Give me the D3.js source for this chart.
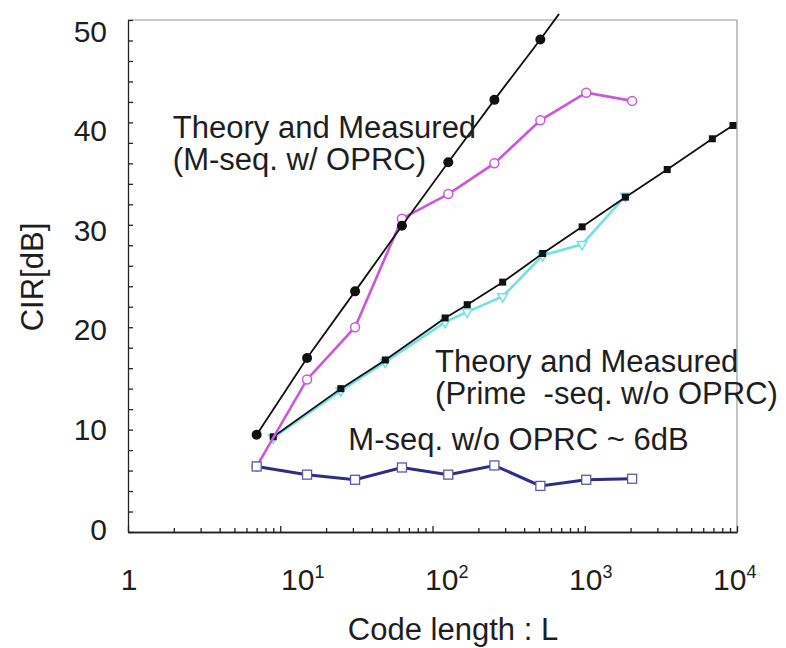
<!DOCTYPE html>
<html>
<head>
<meta charset="utf-8">
<script src="https://cdn.jsdelivr.net/npm/d3@7"></script>
<style>
  html, body { margin: 0; padding: 0; background: #fff; }
  svg { display: block; }
  text { font-family: "Liberation Sans", Arial, Helvetica, sans-serif; fill: #1e1e1e; }
</style>
</head>
<body>
<svg id="chart" width="786" height="648"></svg>
<script>
// Code lengths (L) of M-sequences and prime sequences
const mSeqTheoryLengths = [7, 15, 31, 63, 127, 255, 511];
const mSeqMeasuredLengths = [7, 15, 31, 63, 127, 255, 511, 1023, 2047];
const primeLengths = [9, 25, 49, 121, 169, 289, 529, 961, 1849, 3481, 6889, 9409];
const primeMeasuredLengths = [9, 25, 49, 121, 169, 289, 529, 961, 1849];

// CIR values in dB
const theoryMWithOPRC = [9.5, 17.0, 23.5, 29.9, 36.1, 42.2, 48.1];
const theoryMLineEnd = [678, 50.6];   // where the theory line stops
const measuredMWithOPRC = [6.4, 14.9, 20.0, 30.6, 33.0, 36.0, 40.2, 42.9, 42.1];
const measuredMWithoutOPRC = [6.4, 5.6, 5.1, 6.3, 5.6, 6.5, 4.5, 5.1, 5.2];
const theoryPrime = [9.3, 14.0, 16.8, 20.9, 22.2, 24.4, 27.2, 29.8, 32.7, 35.4, 38.4, 39.7];
const measuredPrime = [9.2, 13.8, 16.6, 20.5, 21.5, 23.0, 27.0, 28.1, 32.8];

// Axis ticks and labels
const yTickLabels = [0, 10, 20, 30, 40, 50];
const xDecades = [1, 10, 100, 1000, 10000];
const xDecadeLabels = [["1", ""], ["10", "1"], ["10", "2"], ["10", "3"], ["10", "4"]];

// Annotations
const annotations = [
  { lines: ["Theory and Measured", "(M-seq. w/ OPRC)"], L: 1.97, cir: 38.5 },
  { lines: ["Theory and Measured", "(Prime\u00a0\u00a0-seq. w/o OPRC)"], L: 104, cir: 15.6 },
  { lines: ["M-seq. w/o OPRC ~ 6dB"], L: 28, cir: 8.0 }
];

const svg = d3.select("#chart");
const x = d3.scaleLog().domain([1, 1e4]).range([128, 737]);
const y = d3.scaleLinear().domain([0, 50]).range([532, 20]);
// Tick label placement (labels sit slightly compressed against the ticks)
const yLabelPos = d3.scaleLinear().domain([0, 50]).range([529, 31]);
const xLabelStart = d3.scaleLog().domain([10, 1e4]).range([281, 713]);

const pts = (xs, ys) => xs.map((L, i) => [L, ys[i]]);
const line = d3.line().x(d => x(d[0])).y(d => y(d[1]));

// Frame (top and right sides)
svg.append("path")
  .attr("d", `M${x(1)},${y(50)}H${x(1e4)}V${y(0)}`)
  .attr("fill", "none").attr("stroke", "#9a9a9a").attr("stroke-width", 1.2);

// Left axis: inward ticks every 2 dB
const yAxis = d3.axisRight(y).tickValues(d3.range(0, 51, 2)).tickSize(5).tickSizeOuter(0).tickFormat("");
svg.append("g").attr("transform", `translate(${x(1)},0)`).call(yAxis);

// Bottom axis: minor log ticks and longer decade ticks, pointing inward
const minorTicks = [];
for (let d = 1; d < 1e4; d *= 10) for (let k = 2; k <= 9; k++) minorTicks.push(d * k);
svg.append("g").attr("transform", `translate(0,${y(0)})`)
  .call(d3.axisTop(x).tickValues(minorTicks).tickSize(4).tickSizeOuter(0).tickFormat(""));
svg.append("g").attr("transform", `translate(0,${y(0)})`)
  .call(d3.axisTop(x).tickValues(xDecades).tickSize(6).tickSizeOuter(0).tickFormat(""));
svg.selectAll("g path, g line").attr("stroke", "#222").attr("stroke-width", 1.3);

// Y tick labels
svg.append("g").selectAll("text").data(yTickLabels).join("text")
  .attr("x", 107).attr("y", d => yLabelPos(d))
  .attr("text-anchor", "end").attr("dominant-baseline", "central")
  .attr("font-size", 30).text(d => d);

// X tick labels with superscript exponents
const xl = svg.append("g").selectAll("text").data(xDecades).join("text")
  .attr("x", (d, i) => i === 0 ? x(d) + 1 : xLabelStart(d))
  .attr("y", 590)
  .attr("text-anchor", (d, i) => i === 0 ? "middle" : "start")
  .attr("font-size", 30);
xl.append("tspan").text((d, i) => xDecadeLabels[i][0]);
xl.append("tspan").attr("font-size", 18).attr("dy", -12).text((d, i) => xDecadeLabels[i][1]);

// Axis titles
svg.append("text").attr("x", 453).attr("y", 640).attr("text-anchor", "middle")
  .attr("font-size", 31).text("Code length : L");
svg.append("text").attr("transform", "translate(43,277) rotate(-90)")
  .attr("text-anchor", "middle").attr("font-size", 31).text("CIR[dB]");

const plot = svg.append("g");

// Measured prime sequence (cyan, open triangles)
const primeMeas = pts(primeMeasuredLengths, measuredPrime);
plot.append("path").datum(primeMeas).attr("d", line)
  .attr("fill", "none").attr("stroke", "#6fe3e3").attr("stroke-width", 2.6);
plot.append("g").selectAll("path").data(primeMeas).join("path")
  .attr("d", d3.symbol(d3.symbolTriangle, 40))
  .attr("transform", d => `translate(${x(d[0])},${y(d[1])}) rotate(180)`)
  .attr("fill", "#fff").attr("stroke", "#6fe3e3").attr("stroke-width", 1.5);

// Theory prime sequence (black, filled squares)
const primeTh = pts(primeLengths, theoryPrime);
plot.append("path").datum(primeTh).attr("d", line)
  .attr("fill", "none").attr("stroke", "#111").attr("stroke-width", 1.8);
plot.append("g").selectAll("rect").data(primeTh).join("rect")
  .attr("x", d => x(d[0]) - 3.5).attr("y", d => y(d[1]) - 3.5)
  .attr("width", 7).attr("height", 7).attr("fill", "#111");

// Measured M-sequence with OPRC (magenta, open circles)
const mMeas = pts(mSeqMeasuredLengths, measuredMWithOPRC);
plot.append("path").datum(mMeas).attr("d", line)
  .attr("fill", "none").attr("stroke", "#cc55dd").attr("stroke-width", 2.6);
plot.append("g").selectAll("circle").data(mMeas).join("circle")
  .attr("cx", d => x(d[0])).attr("cy", d => y(d[1])).attr("r", 4.5)
  .attr("fill", "#fff").attr("stroke", "#cc55dd").attr("stroke-width", 1.5);

// Theory M-sequence with OPRC (black, filled circles)
const mTh = pts(mSeqTheoryLengths, theoryMWithOPRC);
plot.append("path").datum(mTh.concat([theoryMLineEnd])).attr("d", line)
  .attr("fill", "none").attr("stroke", "#111").attr("stroke-width", 1.8);
plot.append("g").selectAll("circle").data(mTh).join("circle")
  .attr("cx", d => x(d[0])).attr("cy", d => y(d[1])).attr("r", 5)
  .attr("fill", "#111");

// Measured M-sequence without OPRC (navy, open squares)
const mNo = pts(mSeqMeasuredLengths, measuredMWithoutOPRC);
plot.append("path").datum(mNo).attr("d", line)
  .attr("fill", "none").attr("stroke", "#2d2d88").attr("stroke-width", 3);
plot.append("g").selectAll("rect").data(mNo).join("rect")
  .attr("x", d => x(d[0]) - 4.5).attr("y", d => y(d[1]) - 4.5)
  .attr("width", 9).attr("height", 9)
  .attr("fill", "#fff").attr("stroke", "#5a5aa8").attr("stroke-width", 1.3);

// Annotations
annotations.forEach(a => {
  const t = svg.append("text").attr("font-size", 31)
    .attr("x", x(a.L)).attr("y", y(a.cir));
  a.lines.forEach((s, i) => {
    t.append("tspan").attr("x", x(a.L)).attr("dy", i === 0 ? 0 : 32).text(s);
  });
});
</script>
</body>
</html>
